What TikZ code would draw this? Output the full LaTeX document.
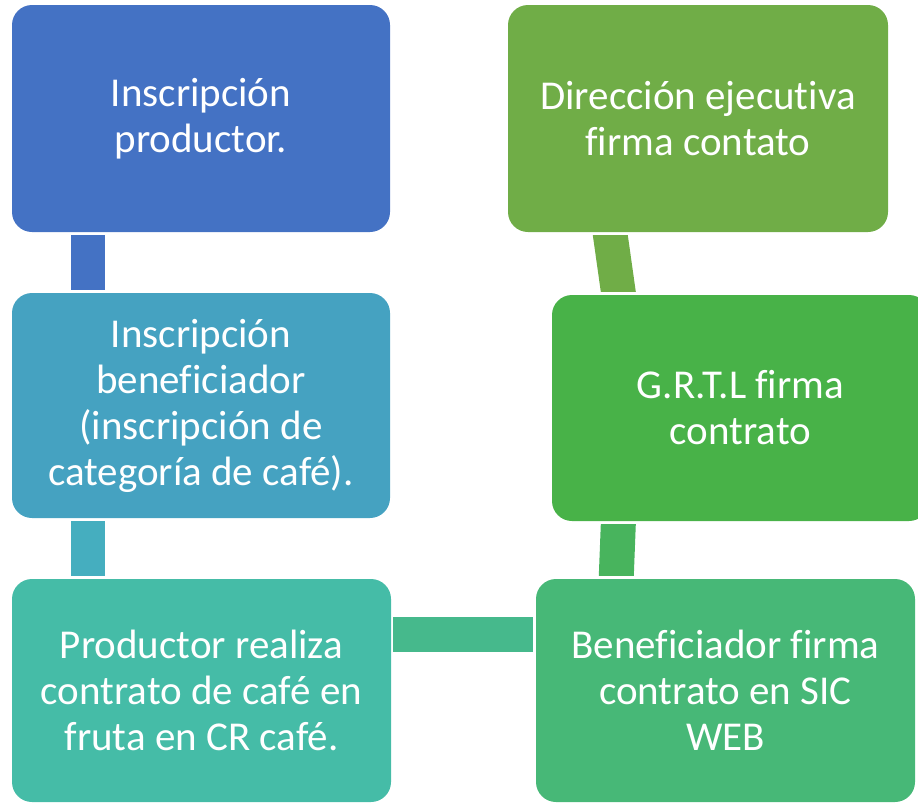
\documentclass[tikz,border=0pt]{standalone}
\usepackage{fontspec}
\setmainfont[Ligatures=NoCommon]{Carlito}
\usetikzlibrary{calc}
\definecolor{cA}{HTML}{4472C4}
\definecolor{cB}{HTML}{45A2C1}
\definecolor{cBC}{HTML}{45AEBF}
\definecolor{cC}{HTML}{45BCA7}
\definecolor{cCD}{HTML}{46B98C}
\definecolor{cD}{HTML}{47B877}
\definecolor{cDE}{HTML}{48B45D}
\definecolor{cE}{HTML}{48B248}
\definecolor{cF}{HTML}{70AD47}
\begin{document}
\begin{tikzpicture}[x=1pt,y=-1pt,
  box/.style={rounded corners=20pt, minimum width=378pt, inner sep=0pt, align=center,
    text=white, font=\fontsize{41}{46}\selectfont},
  bar/.style={line width=34.5pt}]
\useasboundingbox (0,0) rectangle (918,803);
\begin{scope}
\clip (0,0) rectangle (918,803);
\node[box, fill=cA, minimum height=227pt] (b1) at (201,118.5) {Inscripción\\productor.};
\node[box, fill=cB, minimum height=225pt] (b2) at (201,405.5) {Inscripción\\beneficiador\\(inscripción de\\categoría de café).};
\node[box, fill=cC, minimum width=379pt, minimum height=223pt] (b3) at (201.5,690.5) {Productor realiza\\contrato de café en\\fruta en CR café.};
\node[box, fill=cD, minimum width=379pt, minimum height=223pt] (b4) at (725.5,690.5) {Beneficiador firma\\contrato en SIC\\WEB};
\node[box, fill=cE, minimum width=377pt, minimum height=226pt] (b5) at (740.5,408) {G.R.T.L firma\\contrato};
\node[box, fill=cF, minimum width=380pt, minimum height=227pt] (b6) at (698,118.5) {Dirección ejecutiva\\firma contato};

\coordinate (p1a) at ($(b1.south west)+(76,3)$);
\coordinate (p1b) at ($(b2.north west)+(76,-3)$);
\coordinate (p2a) at ($(b2.south west)+(76,3)$);
\coordinate (p2b) at ($(b3.north west)+(76,-3)$);
\coordinate (p3a) at ($(b3.north east)+(2,55.5)$);
\coordinate (p3b) at ($(b4.north west)+(-3,55.5)$);
\coordinate (p4a) at ($(b4.north west)+(80.5,-3)$);
\coordinate (p4b) at ($(b5.south west)+(66.5,3)$);
\coordinate (p5a) at ($(b5.north west)+(66.5,-3)$);
\coordinate (p5b) at ($(b6.south west)+(102.5,3)$);

\draw[bar, cA] (p1a) -- (p1b);
\draw[bar, cBC] (p2a) -- (p2b);
\draw[bar, cCD] (p3a) -- (p3b);
\fill[cDE] ($(p4b)+(-17.5,0)$) -- ($(p4b)+(17.5,0)$) -- ($(p4a)+(17.5,0)$) -- ($(p4a)+(-17.5,0)$) -- cycle;
\fill[cF] ($(p5b)+(-17.5,0)$) -- ($(p5b)+(17.5,0)$) -- ($(p5a)+(17.5,0)$) -- ($(p5a)+(-17.5,0)$) -- cycle;
\end{scope}
\end{tikzpicture}
\end{document}
